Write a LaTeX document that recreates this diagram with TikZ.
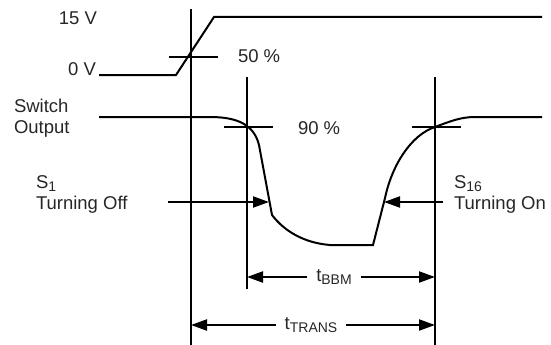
\documentclass[tikz,border=0pt]{standalone}
\usepackage{fontspec}
\setmainfont{Liberation Sans}
\usetikzlibrary{arrows.meta}
\newcommand{\lowidx}[1]{\raisebox{-3pt}{\fontsize{14}{15}\selectfont #1}}

\begin{document}
\begin{tikzpicture}[x=1pt,y=-1pt,line width=2pt,
    lbl/.style={font=\fontsize{18.5}{21}\selectfont,text=black!85,inner sep=0pt},
    tip/.style={-{Triangle[length=16pt,width=11pt]}}]
    \useasboundingbox (0,0) rectangle (551,345);

    % The three vertical reference lines
    \coordinate (Vatop) at (191,9);
    \coordinate (Vabot) at (191,345);
    \coordinate (Vbtop) at (247,77);
    \coordinate (Vbbot) at (247,289);
    \coordinate (Vctop) at (435,77);
    \coordinate (Vcbot) at (435,345);
    \draw (Vatop) -- (Vabot);
    \draw (Vbtop) -- (Vbbot);
    \draw (Vctop) -- (Vcbot);

    % Input step from 0 V to 15 V
    \coordinate (In0) at (99,75);
    \coordinate (InA) at (176,75);
    \coordinate (InB) at (214,17);
    \coordinate (In1) at (542,17);
    \draw (In0) -- (InA) -- (InB) -- (In1);

    % Switch output: falls, stays low, rises again
    \coordinate (Out0) at (99,117);
    \coordinate (OutA) at (210,117);
    \coordinate (OutB) at (259,145);
    \coordinate (OutC) at (272,215);
    \coordinate (OutD) at (330,245);
    \coordinate (OutE) at (373,245);
    \coordinate (OutF) at (385,198);
    \coordinate (OutG) at (435,127);
    \coordinate (OutH) at (475,117);
    \coordinate (Out1) at (542,117);
    \draw (Out0) -- (OutA) .. controls (238,117) and (254,125) .. (OutB)
        -- (OutC) .. controls (285,232) and (305,243) .. (OutD)
        -- (OutE) -- (OutF) .. controls (392,165) and (411,135) .. (OutG)
        .. controls (451,121) and (461,117) .. (OutH) -- (Out1);

    % Threshold marks (50 % and 90 %)
    \draw (169,57) -- (218,57);
    \draw (224,127) -- (273,127);
    \draw (412,127) -- (461,127);

    % Labels
    \node[lbl,anchor=base east] (high) at (98,25) {15 V};
    \node[lbl,anchor=base east] (low) at (97,75) {0 V};
    \node[lbl,anchor=base west] (half) at (237,63) {50 \%};
    \node[lbl,anchor=base west] (ninety) at (297,134) {90 \%};
    \node[lbl,anchor=west,align=left] (swout) at (13,118) {Switch\\Output};
    \node[lbl,anchor=west,align=left] (soff) at (35,194) {S\lowidx{1}\\Turning Off};
    \node[lbl,anchor=west,align=left] (son) at (453,194) {S\lowidx{16}\\Turning On};

    % Switch arrows
    \coordinate (OffStart) at (168,202);
    \coordinate (OffEnd) at (269,202);
    \coordinate (OnStart) at (443,202);
    \coordinate (OnEnd) at (384,202);
    \draw[tip] (OffStart) -- (OffEnd);
    \draw[tip] (OnStart) -- (OnEnd);

    % Timing intervals
    \node[lbl,inner xsep=8pt] (bbm) at (334,277) {t\lowidx{BBM}};
    \node[lbl,inner xsep=8pt] (trans) at (311,325) {t\lowidx{TRANS}};
    \coordinate (BbmL) at (247,277);
    \coordinate (BbmR) at (435,277);
    \coordinate (TransL) at (191,325);
    \coordinate (TransR) at (435,325);
    \draw[tip] (bbm.west) -- (BbmL);
    \draw[tip] (bbm.east) -- (BbmR);
    \draw[tip] (trans.west) -- (TransL);
    \draw[tip] (trans.east) -- (TransR);

\end{tikzpicture}
\end{document}
